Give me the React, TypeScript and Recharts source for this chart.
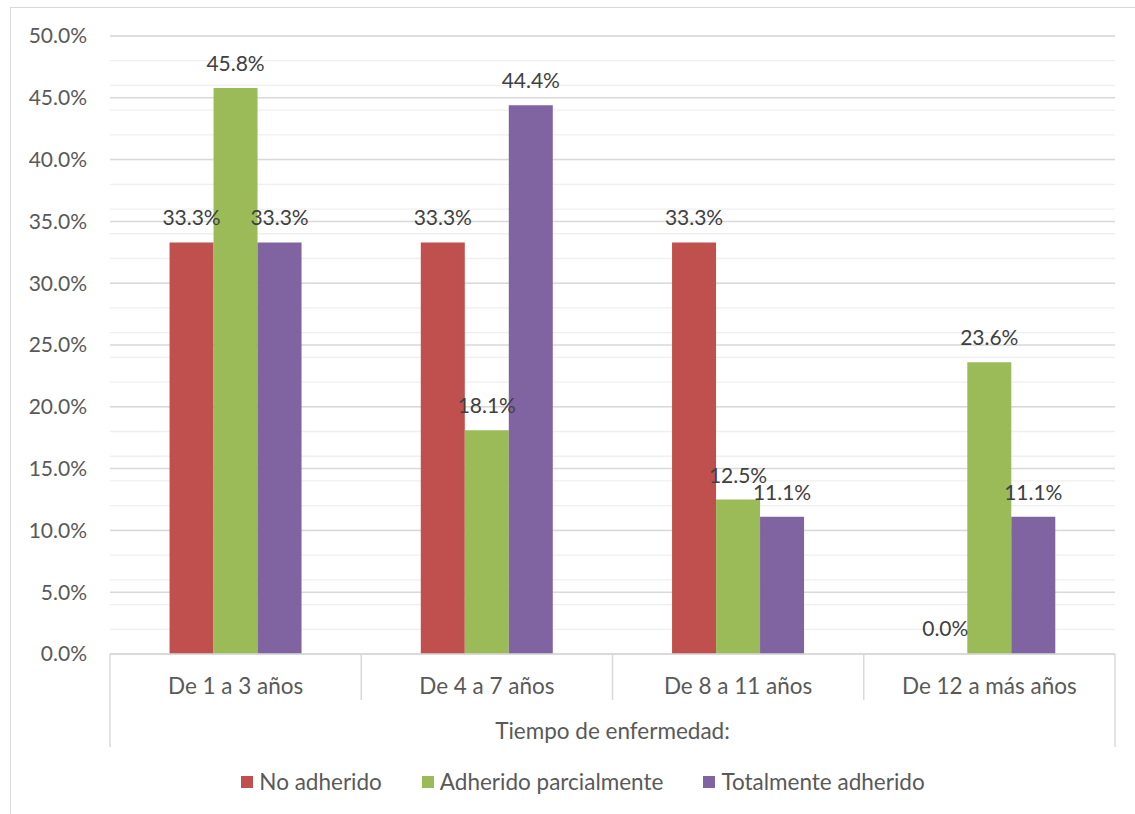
import React from "react";
import {
  BarChart,
  Bar,
  Cell,
  XAxis,
  YAxis,
  CartesianGrid,
  LabelList,
} from "recharts";

const categories = [
  "De 1 a 3 años",
  "De 4 a 7 años",
  "De 8 a 11 años",
  "De 12 a más años",
];
const noAdherido = [33.3, 33.3, 33.3, 0.0];
const adheridoParcialmente = [45.8, 18.1, 12.5, 23.6];
const totalmenteAdherido = [33.3, 44.4, 11.1, 11.1];
const yTicks = [0, 5, 10, 15, 20, 25, 30, 35, 40, 45, 50];

const series = [
  { key: "noAdherido", name: "No adherido", color: "#C0504D", values: noAdherido },
  { key: "parcial", name: "Adherido parcialmente", color: "#9BBB59", values: adheridoParcialmente },
  { key: "total", name: "Totalmente adherido", color: "#8064A2", values: totalmenteAdherido },
];

const data = categories.map((cat, i) => ({
  cat,
  noAdherido: noAdherido[i],
  parcial: adheridoParcialmente[i],
  total: totalmenteAdherido[i],
}));

// minor gridlines every 1%
const minorTicks: number[] = [];
for (let v = 0; v <= 50; v++) minorTicks.push(v);

const CHART_W = 1135;
const CHART_H = 814;
const MARGIN = { top: 36, right: 20, left: 10, bottom: 65 };
const Y_AXIS_W = 100;
const PLOT_W = CHART_W - MARGIN.left - MARGIN.right - Y_AXIS_W;

const AXIS_GRAY = "#d9d9d9";
const TEXT = "#595959";
const NUM_FONT = 21;
const TXT_FONT = 22.5;

const pct = (v: any) => Number(v).toFixed(1) + "%";

// multi-level category axis: label plus separator lines
const CategoryTick = (props: any) => {
  const { x, y, payload, index } = props;
  const band = PLOT_W / categories.length;
  const left = x - band / 2;
  const last = index === categories.length - 1;
  return (
    <g>
      <line
        x1={left}
        x2={left}
        y1={y}
        y2={y + (index === 0 ? 93 : 46)}
        stroke={AXIS_GRAY}
        strokeWidth={1.5}
      />
      {last && (
        <line
          x1={left + band}
          x2={left + band}
          y1={y}
          y2={y + 93}
          stroke={AXIS_GRAY}
          strokeWidth={1.5}
        />
      )}
      <text x={x} y={y + 40} textAnchor="middle" fill={TEXT} fontSize={TXT_FONT}>
        {payload.value}
      </text>
    </g>
  );
};

export default function App() {
  return (
    <div
      style={{
        position: "absolute",
        left: 0,
        top: 0,
        width: CHART_W,
        height: CHART_H,
        background: "#fff",
        fontFamily: "Lato, 'Liberation Sans', sans-serif",
        overflow: "hidden",
      }}
    >
      <div
        style={{
          position: "absolute",
          left: 10,
          top: 7,
          width: CHART_W,
          height: CHART_H,
          borderLeft: `1.5px solid ${AXIS_GRAY}`,
          borderTop: `1.5px solid ${AXIS_GRAY}`,
        }}
      />
      <div style={{ position: "absolute", left: 0, top: 0 }}>
        <BarChart
          width={CHART_W}
          height={CHART_H}
          data={data}
          margin={MARGIN}
          barCategoryGap="23.7%"
          barGap={0}
        >
          <CartesianGrid
            vertical={false}
            horizontalValues={minorTicks}
            stroke="#efefef"
            strokeWidth={1.3}
          />
          <CartesianGrid vertical={false} stroke={AXIS_GRAY} strokeWidth={1.5} />
          <XAxis
            dataKey="cat"
            height={95}
            interval={0}
            tickLine={false}
            tickSize={0}
            tickMargin={0}
            axisLine={{ stroke: AXIS_GRAY, strokeWidth: 1.5 }}
            tick={<CategoryTick />}
            label={{
              value: "Tiempo de enfermedad:",
              position: "insideBottom",
              offset: 10,
              fill: TEXT,
              fontSize: TXT_FONT,
            }}
          />
          <YAxis
            width={Y_AXIS_W}
            domain={[0, 50]}
            ticks={yTicks}
            axisLine={false}
            tickLine={false}
            tickSize={0}
            tickMargin={23}
            tick={{ fill: TEXT, fontSize: NUM_FONT }}
            tickFormatter={pct}
          />
          {series.map((s) => (
            <Bar
              key={s.key}
              dataKey={s.key}
              name={s.name}
              fill={s.color}
              minPointSize={1}
              isAnimationActive={false}
            >
              {s.values.map((v, i) => (
                <Cell key={i} fill={v === 0 ? "transparent" : s.color} />
              ))}
              <LabelList
                dataKey={s.key}
                position="top"
                offset={17}
                fill="#404040"
                fontSize={NUM_FONT}
                formatter={pct}
              />
            </Bar>
          ))}
        </BarChart>
      </div>
      <div
        style={{
          position: "absolute",
          left: 0,
          top: 770,
          width: 1166,
          display: "flex",
          justifyContent: "center",
          alignItems: "center",
          fontSize: TXT_FONT,
          color: TEXT,
        }}
      >
        {series.map((s, i) => (
          <div
            key={s.key}
            style={{
              display: "flex",
              alignItems: "center",
              marginLeft: i === 0 ? 0 : 40,
            }}
          >
            <span
              style={{
                display: "inline-block",
                width: 12,
                height: 12,
                background: s.color,
                marginRight: 6,
              }}
            />
            <span style={{ lineHeight: "24px" }}>{s.name}</span>
          </div>
        ))}
      </div>
    </div>
  );
}
